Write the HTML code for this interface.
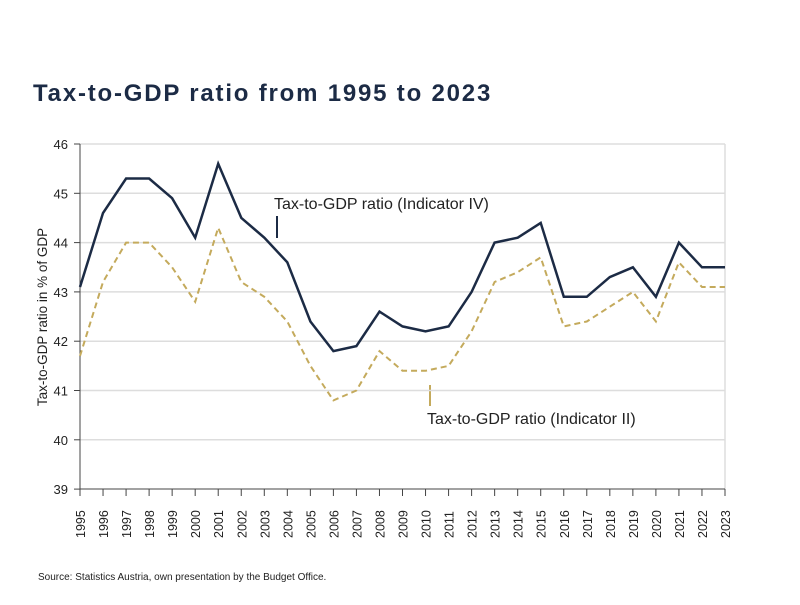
<!DOCTYPE html>
<html><head><meta charset="utf-8"><style>
body{margin:0;background:#fff;width:800px;height:600px;overflow:hidden}
svg text{font-family:"Liberation Sans",sans-serif}
</style></head><body>
<svg id="s" width="800" height="600" xmlns="http://www.w3.org/2000/svg">
<text x="33" y="101" font-size="24" font-weight="bold" fill="#1c2b45" letter-spacing="1.8">Tax-to-GDP ratio from 1995 to 2023</text>
<text x="38" y="580" font-size="10" fill="#222">Source: Statistics Austria, own presentation by the Budget Office.</text>
<text transform="translate(47,317) rotate(-90)" text-anchor="middle" font-size="13.5" fill="#222">Tax-to-GDP ratio  in % of GDP</text>
<text x="274" y="209" font-size="16" fill="#222">Tax-to-GDP ratio (Indicator IV)</text>
<line x1="277" y1="216" x2="277" y2="238" stroke="#1c2b45" stroke-width="2"/>
<text x="427" y="424" font-size="16" fill="#222">Tax-to-GDP ratio (Indicator II)</text>
<line x1="430" y1="385" x2="430" y2="406" stroke="#c4aa5c" stroke-width="2"/>
<g id="g"></g>
</svg>
<script>
var g=document.getElementById('g'),h='';
var X0=80,DX=(725-80)/28,Y=function(v){return 144+(46-v)*49.3;};
for(var v=39;v<=46;v++){var y=Y(v);if(v>39)h+='<line x1="80" y1="'+y+'" x2="725" y2="'+y+'" stroke="#ddd" stroke-width="1.5"/>';
h+='<line x1="74" y1="'+y+'" x2="80" y2="'+y+'" stroke="#444"/><text x="68" y="'+(y+5)+'" text-anchor="end" font-size="13" fill="#222">'+v+'</text>';}
h+='<line x1="80" y1="144" x2="80" y2="489" stroke="#444"/><line x1="725" y1="144" x2="725" y2="489" stroke="#ddd" stroke-width="1.5"/><line x1="80" y1="489" x2="725" y2="489" stroke="#444"/>';
for(var i=0;i<29;i++){var x=X0+i*DX;h+='<line x1="'+x+'" y1="489" x2="'+x+'" y2="496" stroke="#444"/><text transform="translate('+(x+5)+',538) rotate(-90)" font-size="12.5" fill="#222">'+(1995+i)+'</text>';}
var a=[43.1,44.6,45.3,45.3,44.9,44.1,45.6,44.5,44.1,43.6,42.4,41.8,41.9,42.6,42.3,42.2,42.3,43.0,44.0,44.1,44.4,42.9,42.9,43.3,43.5,42.9,44.0,43.5,43.5];
var b=[41.7,43.2,44.0,44.0,43.5,42.8,44.3,43.2,42.9,42.4,41.5,40.8,41.0,41.8,41.4,41.4,41.5,42.2,43.2,43.4,43.7,42.3,42.4,42.7,43.0,42.4,43.6,43.1,43.1];
function p(d){return d.map(function(v,i){return (X0+i*DX).toFixed(1)+','+Y(v).toFixed(1)}).join(' ');}
h+='<polyline points="'+p(b)+'" fill="none" stroke="#c4aa5c" stroke-width="2" stroke-dasharray="6,4"/>';
h+='<polyline points="'+p(a)+'" fill="none" stroke="#1c2b45" stroke-width="2.5"/>';
g.innerHTML=h;
</script>
</body></html>
